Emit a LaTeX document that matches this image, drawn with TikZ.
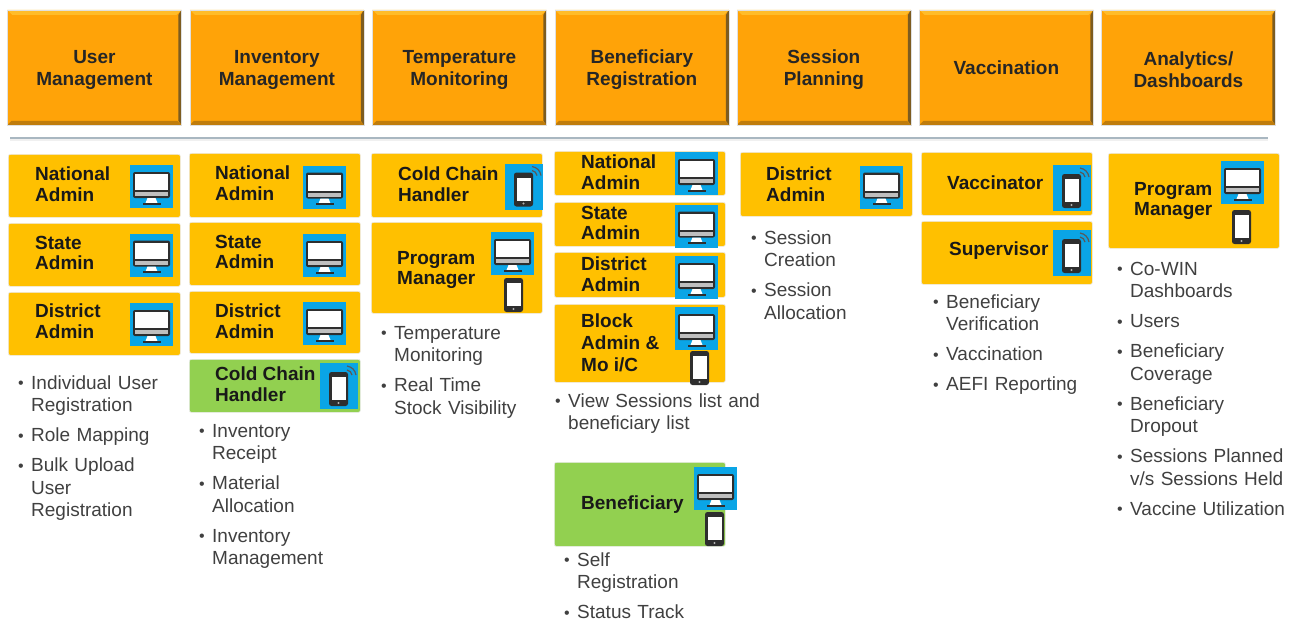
\documentclass[tikz,border=0pt]{standalone}
\usepackage{fontspec}
\setmainfont{Liberation Sans}
\newcommand{\bitem}[1]{\par\noindent\hangindent=13pt\hangafter=1\makebox[13pt][l]{\raisebox{0.5pt}{\fontsize{16}{16}\selectfont\textbullet}}#1\par}
\newcommand{\hdstrut}{\rule{0pt}{19pt}}
\definecolor{headorange}{HTML}{FFA308}
\definecolor{headtop}{HTML}{FFBC2A}
\definecolor{headbottom}{HTML}{BF7C0C}
\definecolor{headright}{HTML}{7D5C20}
\definecolor{roleorange}{HTML}{FFC000}
\definecolor{rolegreen}{HTML}{92D050}
\definecolor{iconblue}{HTML}{0AA5E6}
\definecolor{icondark}{HTML}{2E2E2E}
\definecolor{listgray}{HTML}{404040}
\definecolor{rulegray}{HTML}{A9B7C1}
\tikzset{
  headbox/.style={draw=black!12, fill=headorange, line width=0.8pt, anchor=north west, minimum width=174pt, minimum height=115pt, inner sep=0pt, align=center, font=\fontsize{19}{22}\selectfont\bfseries, text=black!85,
    path picture={
      \fill[headtop] (path picture bounding box.north west) -- (path picture bounding box.north east) -- ++(-5pt,-5pt) -- ++(-164pt,0pt) -- cycle;
      \fill[headbottom] (path picture bounding box.south west) -- (path picture bounding box.south east) -- ++(-4pt,4pt) -- ++(-166pt,0pt) -- cycle;
      \fill[headright] (path picture bounding box.north east) -- (path picture bounding box.south east) -- ++(-3pt,4pt) -- ++(0pt,106pt) -- cycle;
    }},
  rolebox/.style={draw=black!8, fill=roleorange, rounded corners=2pt, line width=0.7pt, anchor=north west, inner sep=0pt},
  greenbox/.style={rolebox, fill=rolegreen},
  rolelabel/.style={anchor=west, inner sep=0pt, align=left, font=\fontsize{19}{20.5}\selectfont\bfseries, text=black!90},
  tasklist/.style={anchor=north west, inner sep=0pt, text width=#1, text=listgray, font=\fontsize{19}{22.5}\selectfont, align=left, execute at begin node=\setlength{\parskip}{7.5pt}},
  pcscreen/.pic={
    \fill[icondark] (0,0) ++(3,7) [rounded corners=2pt] rectangle (40,33);
    \fill[white] (5,9) rectangle (38,25);
    \fill[black!25] (5,27) rectangle (38,31);
    \fill[white] (17.5,33) -- (25.5,33) -- (27.5,38) -- (15.5,38) -- cycle;
    \fill[icondark] (12.5,37.5) rectangle (30.5,39.5);
  },
  pcblue/.pic={
    \fill[iconblue] (0,0) rectangle (43,43);
    \pic at (0,0) {pcscreen};
  },
  handset/.pic={
    \fill[icondark, rounded corners=2.5pt] (0,0) rectangle (19,34);
    \fill[white] (2.5,5) rectangle (16.5,28);
    \fill[black!30] (9.5,31) circle (1.2pt);
  },
  phoneblue/.pic={
    \fill[iconblue] (0,0) rectangle (38,46);
    \pic at (9,9) {handset};
    \draw[black!65, line width=1.2pt] (27,7) to[bend left=35] (32,12);
    \draw[black!65, line width=1.2pt] (27,3) to[bend left=35] (36,12);
  },
}
\begin{document}
\begin{tikzpicture}[x=1pt,y=-1pt]
\useasboundingbox (0,0) rectangle (1291,624);

\node[headbox] (userhead) at (7,9.5) {\hdstrut User\\Management};
\node[headbox] (invhead) at (189.5,9.5) {\hdstrut Inventory\\Management};
\node[headbox] (temphead) at (372,9.5) {\hdstrut Temperature\\Monitoring};
\node[headbox] (benehead) at (554.5,9.5) {\hdstrut Beneficiary\\Registration};
\node[headbox] (sesshead) at (736.5,9.5) {\hdstrut Session\\Planning};
\node[headbox] (vacchead) at (919,9.5) {Vaccination};
\node[headbox] (anahead) at (1101,9.5) {\hdstrut Analytics/\\Dashboards};

\coordinate (ruleleft) at (10,138);
\coordinate (ruleright) at (1268,138);
\draw[draw=black!6, line width=4.5pt] ([yshift=-1pt]ruleleft) -- ([yshift=-1pt]ruleright);
\draw[draw=rulegray, line width=2pt] (ruleleft) -- (ruleright);

\node[rolebox, minimum width=172pt, minimum height=63pt] (usernat) at (8,154) {};
\node[rolebox, minimum width=172pt, minimum height=63pt] (userstate) at (8,223) {};
\node[rolebox, minimum width=172pt, minimum height=63pt] (userdist) at (8,292) {};
\node[rolelabel] (usernatl) at (35,184) {National\\Admin};
\node[rolelabel] (userstatel) at (35,253) {State\\Admin};
\node[rolelabel] (userdistl) at (35,321) {District\\Admin};
\pic at (130,165) {pcblue};
\pic at (130,233.5) {pcblue};
\pic at (130,303) {pcblue};
\node[tasklist=155pt] (userlist) at (18,359) {\bitem{Individual User\newline Registration}\bitem{Role Mapping}\bitem{Bulk Upload\newline User\newline Registration}};

\node[rolebox, minimum width=171pt, minimum height=64pt] (invnat) at (189,153) {};
\node[rolebox, minimum width=171pt, minimum height=63pt] (invstate) at (189,222) {};
\node[rolebox, minimum width=171pt, minimum height=62pt] (invdist) at (189,291) {};
\node[greenbox, minimum width=171pt, minimum height=53pt] (invcold) at (189,359) {};
\node[rolelabel] (invnatl) at (215,183) {National\\Admin};
\node[rolelabel] (invstatel) at (215,252) {State\\Admin};
\node[rolelabel] (invdistl) at (215,321) {District\\Admin};
\node[rolelabel] (invcoldl) at (215,384) {Cold Chain\\Handler};
\pic at (303,165.5) {pcblue};
\pic at (303,234) {pcblue};
\pic at (303,302) {pcblue};
\pic at (320,363) {phoneblue};
\node[tasklist=155pt] (invlist) at (199,407) {\bitem{Inventory\newline Receipt}\bitem{Material\newline Allocation}\bitem{Inventory\newline Management}};

\node[rolebox, minimum width=171pt, minimum height=64pt] (tempcold) at (371,153) {};
\node[rolebox, minimum width=171pt, minimum height=91pt] (tempprog) at (371,222) {};
\node[rolelabel] (tempcoldl) at (398,184) {Cold Chain\\Handler};
\node[rolelabel] (tempprogl) at (397,270) {Program\\Manager};
\pic at (505,163.5) {phoneblue};
\pic at (491,232) {pcblue};
\pic at (504,278) {handset};
\node[tasklist=155pt] (templist) at (381,309) {\bitem{Temperature\newline Monitoring}\bitem{Real Time\newline Stock Visibility}};

\node[rolebox, minimum width=171pt, minimum height=44pt] (benenat) at (554,151) {};
\node[rolebox, minimum width=171pt, minimum height=44pt] (benestate) at (554,202) {};
\node[rolebox, minimum width=171pt, minimum height=45pt] (benedist) at (554,252) {};
\node[rolebox, minimum width=171pt, minimum height=78pt] (beneblock) at (554,304) {};
\node[greenbox, minimum width=171pt, minimum height=84pt] (beneself) at (554,462) {};
\node[rolelabel] (benenatl) at (581,172) {National\\Admin};
\node[rolelabel] (benestatel) at (581,223) {State\\Admin};
\node[rolelabel] (benedistl) at (581,274) {District\\Admin};
\node[rolelabel] (beneblockl) at (581,343) {Block\\[1.5pt]Admin \&\\[1.5pt]Mo i/C};
\node[rolelabel] (beneselfl) at (581,505) {Beneficiary};
\pic at (675,152) {pcblue};
\pic at (675,204.5) {pcblue};
\pic at (675,256) {pcblue};
\pic at (675,307) {pcblue};
\pic at (690,351) {handset};
\pic at (694,467) {pcblue};
\pic at (705,512) {handset};
\node[tasklist=220pt] (benelist) at (555,377) {\bitem{View Sessions list and\newline beneficiary list}};
\node[tasklist=155pt] (selflist) at (564,536) {\bitem{Self\newline Registration}\bitem{Status Track}};

\node[rolebox, minimum width=172pt, minimum height=64pt] (sessdist) at (740,152) {};
\node[rolelabel] (sessdistl) at (766,184) {District\\Admin};
\pic at (860,165.5) {pcblue};
\node[tasklist=155pt] (sesslist) at (751,214) {\bitem{Session\newline Creation}\bitem{Session\newline Allocation}};

\node[rolebox, minimum width=171pt, minimum height=63pt] (vaccvac) at (921,152) {};
\node[rolebox, minimum width=171pt, minimum height=63pt] (vaccsup) at (921,221) {};
\node[rolelabel] (vaccvacl) at (947,183) {Vaccinator};
\node[rolelabel] (vaccsupl) at (949,251) {Supervisor};
\pic at (1053,165) {phoneblue};
\pic at (1053,230) {phoneblue};
\node[tasklist=155pt] (vacclist) at (933,278) {\bitem{Beneficiary\newline Verification}\bitem{Vaccination}\bitem{AEFI Reporting}};

\node[rolebox, minimum width=171pt, minimum height=95pt] (anaprog) at (1108,153) {};
\node[rolelabel] (anaprogl) at (1134,201) {Program\\Manager};
\pic at (1221,161) {pcblue};
\pic at (1232,210) {handset};
\node[tasklist=175pt] (analist) at (1117,245) {\bitem{Co-WIN\newline Dashboards}\bitem{Users}\bitem{Beneficiary\newline Coverage}\bitem{Beneficiary\newline Dropout}\bitem{Sessions Planned\newline v/s Sessions Held}\bitem{Vaccine Utilization}};
\end{tikzpicture}
\end{document}
